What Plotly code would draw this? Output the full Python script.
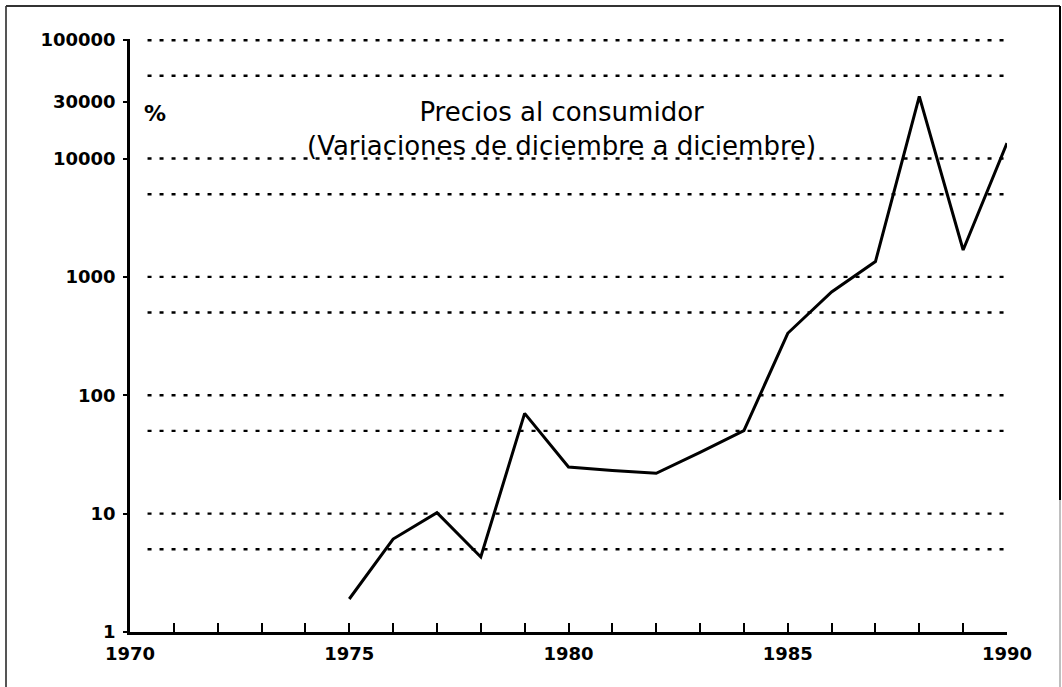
import plotly.graph_objects as go

years = [1975, 1976, 1977, 1978, 1979, 1980, 1981, 1982, 1983, 1984, 1985, 1986, 1987, 1988, 1989, 1990]
inflation = [1.9, 6.1, 10.2, 4.3, 70.3, 24.8, 23.2, 21.9, 32.9, 50.2, 334, 747, 1347, 33548, 1689, 13490]

grid_values = [5, 10, 50, 100, 500, 1000, 5000, 10000, 50000, 100000]
y_tickvals = [1, 10, 100, 1000, 10000, 30000, 100000]
y_ticktext = ["1", "10", "100", "1000", "10000", "30000", "100000"]
x_tickvals = [1970, 1975, 1980, 1985, 1990]
x_ticktext = ["1970", "1975", "1980", "1985", "1990"]

FONT = "DejaVu Sans"
W, H = 1062, 687
L, R, T, B = 130, 55, 39, 55
pw, ph = W - L - R, H - T - B


def px_x(px):
    return (px - L) / pw


def px_y(py):
    return (H - B - py) / ph


fig = go.Figure()

for g in grid_values:
    fig.add_trace(go.Scatter(
        x=[1970.4, 1990], y=[g, g], mode="lines",
        line=dict(color="black", width=2.4, dash="4px,8px"),
        hoverinfo="skip", showlegend=False))

fig.add_trace(go.Scatter(
    x=years, y=inflation, mode="lines",
    line=dict(color="black", width=3),
    showlegend=False))

border = [
    dict(type="line", xref="paper", yref="paper", x0=px_x(6), x1=px_x(6), y0=px_y(6), y1=px_y(687),
         line=dict(color="#555555", width=2)),
    dict(type="line", xref="paper", yref="paper", x0=px_x(6), x1=px_x(1060), y0=px_y(6), y1=px_y(6),
         line=dict(color="#333333", width=2)),
    dict(type="line", xref="paper", yref="paper", x0=px_x(1060), x1=px_x(1060), y0=px_y(6), y1=px_y(500),
         line=dict(color="black", width=2)),
    dict(type="line", xref="paper", yref="paper", x0=px_x(1060), x1=px_x(1060), y0=px_y(500), y1=px_y(687),
         line=dict(color="#aaaaaa", width=1.5)),
]

fig.update_layout(
    width=W, height=H,
    margin=dict(l=L, r=R, t=T, b=B),
    paper_bgcolor="white", plot_bgcolor="white",
    font=dict(family=FONT, color="black"),
    xaxis=dict(
        range=[1970, 1990], tickvals=x_tickvals, ticktext=x_ticktext,
        showgrid=False, zeroline=False,
        showline=True, linecolor="black", linewidth=2.5,
        ticks="inside", ticklen=9, tickwidth=2, tickcolor="black",
        minor=dict(dtick=1, tick0=1970, ticks="inside", ticklen=9, tickwidth=2, tickcolor="black"),
        tickfont=dict(family=FONT, size=18, color="black", weight="bold"),
        ticklabelstandoff=4,
    ),
    yaxis=dict(
        type="log", range=[0, 5.01],
        tickvals=y_tickvals, ticktext=y_ticktext,
        showgrid=False, zeroline=False,
        showline=True, linecolor="black", linewidth=2.5,
        ticks="outside", ticklen=4, tickwidth=2, tickcolor="black",
        tickfont=dict(family=FONT, size=18, color="black", weight="bold"),
        ticklabelstandoff=4,
    ),
    shapes=border,
    annotations=[
        dict(text="Precios al consumidor<br>(Variaciones de diciembre a diciembre)",
             xref="paper", yref="paper", x=px_x(561), y=px_y(129), xanchor="center", yanchor="middle",
             showarrow=False, font=dict(family=FONT, size=26, color="black")),
        dict(text="<b>%</b>", xref="paper", yref="paper", x=px_x(155), y=px_y(113),
             xanchor="center", yanchor="middle", showarrow=False,
             font=dict(family=FONT, size=22, color="black")),
    ],
)

fig.write_html("out.html", config={"displayModeBar": False},
               post_script="document.body.style.margin='0';")
